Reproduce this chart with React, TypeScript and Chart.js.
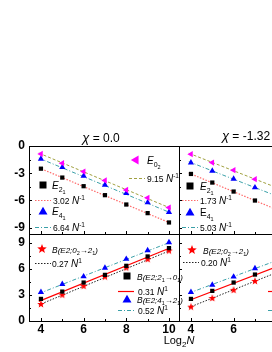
import React, { useEffect, useRef } from 'react';
import { Chart, registerables } from 'chart.js';
Chart.register(...registerables);

const W = 340;
const H = 352;
const FONT = '"Liberation Sans", Arial, sans-serif';

// ---------- data ----------
const logN = [4, 5, 6, 7, 8, 9, 10];
const fitX = [3.9, 10.1];
const xTicks = [4, 6, 8, 10];
const xMinor = [5, 7, 9];
const yTicksTop = [0, -3, -6, -9];
const yMinorTop = [-1.5, -4.5, -7.5];
const yTicksBot = [0, 3, 6, 9];
const yMinorBot = [1.5, 4.5, 7.5];

// chi = 0.0 energies
const e02A = [-0.88, -1.9, -2.82, -3.8, -4.84, -5.71, -6.78];
const e21A = [-2.5, -3.48, -4.43, -5.42, -6.45, -7.4, -8.43];
const e41A = [-1.43, -2.35, -3.3, -4.29, -5.2, -6.23, -7.29];
const fitE02A = [-0.78, -6.88];
const fitE21A = [-2.4, -8.53];
const fitE41A = [-1.33, -7.39];

// chi = -1.32 energies
const e02B = [-0.9, -1.83, -2.67, -3.66, -4.58, -5.5, -6.42];
const e21B = [-3.08, -4.03, -5.02, -6.01, -6.99, -7.97, -8.95];
const e41B = [-1.83, -2.75, -3.63, -4.58, -5.5, -6.42, -7.34];
const fitE02B = [-0.8, -6.5];
const fitE21B = [-2.98, -9.05];
const fitE41B = [-1.73, -7.43];

// chi = 0.0 B(E2)
const b02A = [1.96, 3.03, 4.04, 5.11, 6.15, 7.12, 8.11];
const b21A = [2.54, 3.38, 4.42, 5.3, 6.34, 7.42, 8.38];
const b41A = [3.31, 4.23, 5.11, 6.11, 7.12, 8.11, 9.03];
const fitB02A = [1.85, 8.15];
const fitB21A = [2.25, 8.45];
const fitB41A = [3.15, 9.1];

// chi = -1.32 B(E2)
const b02B = [1.65, 2.65, 3.58, 4.61, 5.6, 6.58, 7.56];
const b21B = [2.54, 3.46, 4.42, 5.34, 6.28, 7.22, 8.16];
const b41B = [3.31, 4.15, 5.08, 6.04, 6.95, 7.86, 8.77];
const fitB02B = [1.55, 7.6];
const fitB21B = [2.35, 8.2];
const fitB41B = [3.2, 8.85];

// ---------- styles ----------
const MAGENTA = '#ff00ff';
const BLUE = '#0000ff';
const RED = '#ff0000';
const OLIVE = '#a0a040';
const LRED = '#ff6a6a';
const TEAL = '#3aa0a8';
const DASH = [3, 2];
const DOT = [1.5, 1.5];
const DASHDOT = [4, 2, 1, 2];

type Seg = { t: string; s?: number; dy?: number; i?: boolean };

function makeStar(r: number, color: string): HTMLCanvasElement {
  const size = Math.ceil(r * 2) + 2;
  const c = document.createElement('canvas');
  c.width = size;
  c.height = size;
  const g = c.getContext('2d')!;
  g.fillStyle = color;
  g.beginPath();
  for (let i = 0; i < 10; i++) {
    const ang = -Math.PI / 2 + (i * Math.PI) / 5;
    const rr = i % 2 === 0 ? r : r * 0.42;
    g.lineTo(size / 2 + rr * Math.cos(ang), size / 2 + rr * Math.sin(ang) + r * 0.08);
  }
  g.closePath();
  g.fill();
  return c;
}

function drawRich(ctx: CanvasRenderingContext2D, segs: Seg[], x: number, y: number, base = 9) {
  let cx = x;
  for (const s of segs) {
    ctx.font = `${s.i ? 'italic ' : ''}${s.s || base}px ${FONT}`;
    ctx.fillText(s.t, cx, y + (s.dy || 0));
    cx += ctx.measureText(s.t).width;
  }
}

function drawMarker(ctx: CanvasRenderingContext2D, mk: string, color: string, x: number, y: number, r: number) {
  ctx.save();
  ctx.fillStyle = color;
  ctx.beginPath();
  if (mk === 'sq') {
    ctx.rect(x - r, y - r, 2 * r, 2 * r);
  } else if (mk === 'tri' || mk === 'triL') {
    const rot = mk === 'triL' ? -Math.PI / 2 : 0;
    for (let i = 0; i < 3; i++) {
      const a = rot - Math.PI / 2 + (i * 2 * Math.PI) / 3;
      ctx.lineTo(x + r * 1.15 * Math.cos(a), y + r * 1.15 * Math.sin(a) + (mk === 'tri' ? r * 0.2 : 0));
    }
  } else if (mk === 'star') {
    for (let i = 0; i < 10; i++) {
      const a = -Math.PI / 2 + (i * Math.PI) / 5;
      const rr = i % 2 === 0 ? r : r * 0.42;
      ctx.lineTo(x + rr * Math.cos(a), y + rr * Math.sin(a));
    }
  }
  ctx.closePath();
  ctx.fill();
  ctx.restore();
}

const E = (a: string, b: string, italic = true): Seg[] => [
  { t: 'E', s: 10, i: italic },
  { t: a, s: 7, dy: 3 },
  { t: b, s: 5.5, dy: 5 },
];
const FIT = (num: string, exp: string): Seg[] => [
  { t: num + ' ', s: 8.5 },
  { t: 'N', s: 10, i: true },
  { t: exp, s: 6.5, dy: -4 },
];
const BE2 = (a: string, sa: string, b: string, sb: string): Seg[] => [
  { t: 'B', s: 8.5, i: true },
  { t: '(E2;' + a, s: 8, i: true },
  { t: sa, s: 5.5, dy: 2 },
  { t: '\u2192' + b, s: 8, i: true },
  { t: sb, s: 5.5, dy: 2 },
  { t: ')', s: 8, i: true },
];

const decor = {
  id: 'decor',
  afterDraw(chart: any, _args: any, o: any) {
    const ctx: CanvasRenderingContext2D = chart.ctx;
    const a = chart.chartArea;
    const xs = chart.scales.x;
    const ys = chart.scales.y;
    ctx.save();
    ctx.strokeStyle = '#000';
    ctx.lineWidth = 1;
    ctx.strokeRect(Math.round(a.left) + 0.5, Math.round(a.top) + 0.5, Math.round(a.right - a.left), Math.round(a.bottom - a.top));
    const tick = (x1: number, y1: number, x2: number, y2: number) => {
      ctx.beginPath();
      ctx.moveTo(x1, y1);
      ctx.lineTo(x2, y2);
      ctx.stroke();
    };
    for (const v of xTicks) {
      const px = Math.round(xs.getPixelForValue(v)) + 0.5;
      tick(px, a.bottom, px, a.bottom - 3);
    }
    for (const v of xMinor) {
      const px = Math.round(xs.getPixelForValue(v)) + 0.5;
      tick(px, a.bottom, px, a.bottom - 2);
    }
    for (const v of o.yMajor) {
      const py = Math.round(ys.getPixelForValue(v)) + 0.5;
      tick(a.left, py, a.left + 3, py);
    }
    for (const v of o.yMinor) {
      const py = Math.round(ys.getPixelForValue(v)) + 0.5;
      tick(a.left, py, a.left + 2, py);
    }
    ctx.fillStyle = '#000';
    ctx.textBaseline = 'alphabetic';
    ctx.textAlign = 'left';
    if (o.title) {
      let w = 0;
      for (const s of o.title) {
        ctx.font = `${s.i ? 'italic ' : ''}${s.s || 12}px ${FONT}`;
        w += ctx.measureText(s.t).width;
      }
      drawRich(ctx, o.title, o.titleX - w / 2, o.titleY, 12);
    }
    if (o.xTitle) {
      let w = 0;
      for (const s of o.xTitle) {
        ctx.font = `${s.i ? 'italic ' : ''}${s.s || 11}px ${FONT}`;
        w += ctx.measureText(s.t).width;
      }
      drawRich(ctx, o.xTitle, o.xTitleX - w / 2, o.xTitleY, 11);
    }
    for (const it of o.legend || []) {
      if (it.mk) drawMarker(ctx, it.mk, it.color, it.x, it.y, it.r || 4);
      if (it.line) {
        ctx.save();
        ctx.strokeStyle = it.line.color;
        ctx.lineWidth = it.line.width || 1;
        ctx.setLineDash(it.line.dash || []);
        ctx.beginPath();
        ctx.moveTo(it.x - 8, it.y + 0.5);
        ctx.lineTo(it.x + 8, it.y + 0.5);
        ctx.stroke();
        ctx.restore();
      }
      ctx.fillStyle = '#000';
      drawRich(ctx, it.label, it.tx, it.y + 3.5, 9);
    }
    ctx.restore();
  },
};

const pts = (arr: number[]) => logN.map((x, i) => ({ x, y: arr[i] }));
const fit = (arr: number[]) => fitX.map((x, i) => ({ x, y: arr[i] }));

function pointDs(arr: number[], style: any, color: string, radius: number, rotation = 0) {
  return {
    data: pts(arr),
    showLine: false,
    pointStyle: style,
    pointRadius: radius,
    pointRotation: rotation,
    backgroundColor: color,
    borderColor: color,
    borderWidth: 0,
    order: 0,
  };
}
function lineDs(arr: number[], color: string, dash: number[], width = 1) {
  return {
    data: fit(arr),
    showLine: true,
    pointRadius: 0,
    borderColor: color,
    borderWidth: width,
    borderDash: dash,
    order: 1,
  };
}

function makeConfig(p: any): any {
  const yMin = p.top ? -9.7 : 0;
  const yMax = p.top ? 0 : 10;
  const yT = p.top ? yTicksTop : yTicksBot;
  return {
    type: 'scatter',
    data: { datasets: p.datasets },
    options: {
      responsive: false,
      animation: false,
      devicePixelRatio: 1,
      layout: { padding: p.pad, autoPadding: false },
      plugins: {
        legend: { display: false },
        tooltip: { enabled: false },
        decor: {
          yMajor: yT,
          yMinor: p.top ? yMinorTop : yMinorBot,
          title: p.title,
          titleX: p.titleX,
          titleY: p.titleY,
          xTitle: p.xTitle,
          xTitleX: p.xTitleX,
          xTitleY: p.xTitleY,
          legend: p.legend,
        },
      },
      scales: {
        x: {
          type: 'linear',
          min: 3.44,
          max: 10.47,
          display: !p.top,
          afterFit: (s: any) => {
            s.height = p.top ? 0 : 31;
          },
          afterBuildTicks: (s: any) => {
            s.ticks = xTicks.map((v) => ({ value: v }));
          },
          grid: { display: false, drawTicks: false },
          border: { display: false },
          ticks: { color: '#000', padding: 1, maxRotation: 0, autoSkip: false, font: { family: FONT, size: 12, weight: 'bold' } },
        },
        y: {
          type: 'linear',
          min: yMin,
          max: yMax,
          display: p.left,
          afterFit: (s: any) => {
            s.width = p.left ? 29 : 0;
          },
          afterBuildTicks: (s: any) => {
            s.ticks = yT.map((v) => ({ value: v }));
          },
          grid: { display: false, drawTicks: false },
          border: { display: false },
          ticks: { color: '#000', padding: 4, autoSkip: false, font: { family: FONT, size: 12, weight: 'bold' } },
        },
      },
    },
    plugins: [decor],
  };
}

export default function App() {
  const r1 = useRef<HTMLCanvasElement>(null);
  const r2 = useRef<HTMLCanvasElement>(null);
  const r3 = useRef<HTMLCanvasElement>(null);
  const r4 = useRef<HTMLCanvasElement>(null);

  useEffect(() => {
    const star = makeStar(4, RED);
    const chi0: Seg[] = [{ t: '\u03c7', s: 13, i: true }, { t: ' = 0.0', s: 12 }];
    const chi1: Seg[] = [{ t: '\u03c7', s: 13, i: true }, { t: ' = -1.32', s: 12 }];

    const tl = makeConfig({
      top: true,
      left: true,
      pad: { left: 0, top: 146, right: W - 179, bottom: H - 234 },
      title: chi0,
      titleX: 101,
      titleY: 142,
      datasets: [
        pointDs(e02A, 'triangle', MAGENTA, 3.6, -90),
        pointDs(e41A, 'triangle', BLUE, 3.6),
        pointDs(e21A, 'rect', '#000', 3),
        lineDs(fitE02A, OLIVE, DASH),
        lineDs(fitE41A, TEAL, DASHDOT),
        lineDs(fitE21A, LRED, DOT, 1.2),
      ],
      legend: [
        { mk: 'triL', color: MAGENTA, x: 136, y: 160, r: 4.5, tx: 147, label: E('0', '2') },
        { line: { color: OLIVE, dash: DASH }, x: 137, y: 178, tx: 147, label: FIT('9.15', '-1') },
        { mk: 'sq', color: '#000', x: 43, y: 185, r: 3.5, tx: 52, label: E('2', '1') },
        { line: { color: LRED, dash: DOT, width: 1.2 }, x: 43, y: 200, tx: 53, label: FIT('3.02', '-1') },
        { mk: 'tri', color: BLUE, x: 43, y: 211, r: 4.5, tx: 52, label: E('4', '1') },
        { line: { color: TEAL, dash: DASHDOT }, x: 43, y: 227, tx: 53, label: FIT('6.64', '-1') },
      ],
    });
    const tr = makeConfig({
      top: true,
      left: false,
      pad: { left: 179, top: 146, right: W - 329, bottom: H - 234 },
      title: chi1,
      titleX: 246,
      titleY: 140,
      datasets: [
        pointDs(e02B, 'triangle', MAGENTA, 3.6, -90),
        pointDs(e41B, 'triangle', BLUE, 3.6),
        pointDs(e21B, 'rect', '#000', 3),
        lineDs(fitE02B, OLIVE, DASH),
        lineDs(fitE41B, TEAL, DASHDOT),
        lineDs(fitE21B, LRED, DOT, 1.2),
      ],
      legend: [
        { mk: 'triL', color: MAGENTA, x: 286, y: 160, r: 4.5, tx: 297, label: E('0', '2') },
        { line: { color: OLIVE, dash: DASH }, x: 287, y: 178, tx: 297, label: FIT('8.22', '-1') },
        { mk: 'sq', color: '#000', x: 190, y: 186, r: 3.5, tx: 200, label: E('2', '1') },
        { line: { color: LRED, dash: DOT, width: 1.2 }, x: 190, y: 200, tx: 200, label: FIT('1.73', '-1') },
        { mk: 'tri', color: BLUE, x: 190, y: 212, r: 4.5, tx: 200, label: E('4', '1', false) },
        { line: { color: TEAL, dash: DASHDOT }, x: 190, y: 227, tx: 200, label: FIT('5.03', '-1') },
      ],
    });
    const bl = makeConfig({
      top: false,
      left: true,
      pad: { left: 0, top: 234, right: W - 179, bottom: 0 },
      xTitle: [{ t: 'Log', s: 11 }, { t: '2', s: 8, dy: 3 }, { t: 'N', s: 11, i: true }],
      xTitleX: 179,
      xTitleY: 344,
      datasets: [
        pointDs(b41A, 'triangle', BLUE, 3.6),
        pointDs(b21A, 'rect', '#000', 3),
        pointDs(b02A, star, RED, 4),
        lineDs(fitB41A, TEAL, DASHDOT),
        lineDs(fitB21A, RED, [], 1.2),
        lineDs(fitB02A, '#222', DOT),
      ],
      legend: [
        { mk: 'star', color: RED, x: 42, y: 249, r: 5, tx: 52, label: BE2('0', '2', '2', '1') },
        { line: { color: '#222', dash: DOT }, x: 43, y: 263, tx: 52, label: FIT('0.27', '1') },
        { mk: 'sq', color: '#000', x: 127, y: 276, r: 3.5, tx: 137, label: BE2('2', '1', '0', '1') },
        { line: { color: RED, dash: [], width: 1.2 }, x: 126, y: 291, tx: 138, label: FIT('0.31', '1') },
        { mk: 'tri', color: BLUE, x: 127, y: 299, r: 4.5, tx: 137, label: BE2('4', '1', '2', '1') },
        { line: { color: TEAL, dash: DASHDOT }, x: 126, y: 310, tx: 138, label: FIT('0.52', '1') },
      ],
    });
    const br = makeConfig({
      top: false,
      left: false,
      pad: { left: 179, top: 234, right: W - 329, bottom: 0 },
      datasets: [
        pointDs(b41B, 'triangle', BLUE, 3.6),
        pointDs(b21B, 'rect', '#000', 3),
        pointDs(b02B, star, RED, 4),
        lineDs(fitB41B, TEAL, DASHDOT),
        lineDs(fitB21B, RED, [], 1.2),
        lineDs(fitB02B, '#222', DOT),
      ],
      legend: [
        { mk: 'star', color: RED, x: 192, y: 250, r: 5, tx: 203, label: BE2('0', '2', '2', '1') },
        { line: { color: '#222', dash: DOT }, x: 191, y: 262, tx: 201, label: FIT('0.20', '1') },
        { mk: 'sq', color: '#000', x: 277, y: 276, r: 3.5, tx: 287, label: BE2('2', '1', '0', '1') },
        { line: { color: RED, dash: [], width: 1.2 }, x: 276, y: 291, tx: 288, label: FIT('0.30', '1') },
        { mk: 'tri', color: BLUE, x: 277, y: 299, r: 4.5, tx: 287, label: BE2('4', '1', '2', '1') },
        { line: { color: TEAL, dash: DASHDOT }, x: 276, y: 310, tx: 288, label: FIT('0.48', '1') },
      ],
    });

    const charts = [
      new Chart(r1.current!, tl),
      new Chart(r2.current!, tr),
      new Chart(r3.current!, bl),
      new Chart(r4.current!, br),
    ];
    return () => charts.forEach((c) => c.destroy());
  }, []);

  const cs: React.CSSProperties = { position: 'absolute', left: 0, top: 0, width: W, height: H };
  return (
    <div style={{ position: 'fixed', left: 0, top: 0, width: 272, height: 352, overflow: 'hidden', background: '#fff' }}>
      <canvas ref={r1} width={W} height={H} style={cs} />
      <canvas ref={r2} width={W} height={H} style={cs} />
      <canvas ref={r3} width={W} height={H} style={cs} />
      <canvas ref={r4} width={W} height={H} style={cs} />
    </div>
  );
}
